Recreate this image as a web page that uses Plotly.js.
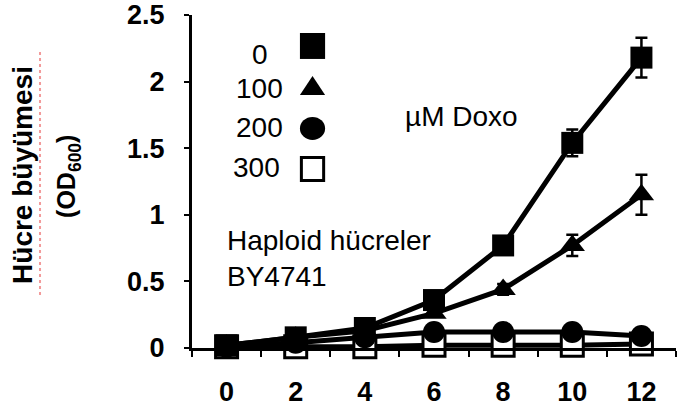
<!DOCTYPE html>
<html>
<head>
<meta charset="utf-8">
<script src="https://cdn.plot.ly/plotly-3.0.1.min.js"></script>
<style>html,body{margin:0;padding:0;background:#fff;}#chart{width:684px;height:410px;}</style>
</head>
<body>
<div id="chart"></div>
<script>
// Data
const timePoints = ["0", "2", "4", "6", "8", "10", "12"];
const doxo0   = [0.02, 0.08, 0.15, 0.36, 0.77, 1.54, 2.18];
const doxo0Err = [0, 0, 0, 0.03, 0.04, 0.10, 0.15];
const doxo100 = [0.02, 0.08, 0.13, 0.26, 0.44, 0.77, 1.15];
const doxo100Err = [0, 0, 0, 0, 0.04, 0.08, 0.15];
const doxo200 = [0.01, 0.04, 0.08, 0.12, 0.12, 0.12, 0.09];
const doxo300 = [0.01, 0.01, 0.01, 0.02, 0.02, 0.02, 0.03];
const legendLabels = ["0", "100", "200", "300"];
const yTicks = [0, 0.5, 1, 1.5, 2, 2.5];
const yTickText = ["0", "0.5", "1", "1.5", "2", "2.5"];

const FONT = "Liberation Sans, Arial, sans-serif";

function series(y, symbol, fill, err) {
  const t = {
    x: timePoints, y: y, type: "scatter", mode: "lines+markers",
    line: {color: "#000", width: 5},
    marker: {symbol: symbol, size: 22, color: fill, line: {color: "#000", width: fill === "#fff" ? 3 : 0}},
    showlegend: false, cliponaxis: false
  };
  if (err) t.error_y = {type: "data", array: err, visible: true, color: "#000", thickness: 2.5, width: 6};
  return t;
}

const traces = [
  series(doxo300, "square", "#fff"),
  series(doxo200, "circle", "#000"),
  series(doxo100, "triangle-up", "#000", doxo100Err),
  series(doxo0, "square", "#000", doxo0Err)
];

function ann(text, x, y, xanchor, size, bold, extra) {
  return Object.assign({
    text: bold ? "<b>" + text + "</b>" : text, xref: "paper", yref: "paper", x: x, y: y,
    xanchor: xanchor, yanchor: "middle", showarrow: false,
    font: {family: FONT, size: size, color: "#000"}
  }, extra || {});
}

const annotations = [
  ann("µM Doxo", 0.436, 0.694, "left", 28, false),
  ann("Haploid hücreler", 0.068, 0.324, "left", 28, false),
  ann("BY4741", 0.068, 0.216, "left", 28, false),
  ann(legendLabels[0], 0.161, 0.880, "right", 28, false),
  ann(legendLabels[1], 0.192, 0.778, "right", 28, false),
  ann(legendLabels[2], 0.192, 0.661, "right", 28, false),
  ann(legendLabels[3], 0.186, 0.541, "right", 28, false),
  ann("Hücre büyümesi", -0.349, 0.520, "center", 28, true, {textangle: -90}),
  ann("(OD<sub>600</sub>)", -0.256, 0.514, "center", 25, true, {textangle: -90})
];

const shapes = [
  {type: "rect", xref: "paper", yref: "paper", x0: 0.223, x1: 0.275, y0: 0.868, y1: 0.946, fillcolor: "#000", line: {width: 0}},
  {type: "path", xref: "paper", yref: "paper", path: "M 0.223 0.760 L 0.275 0.760 L 0.249 0.817 Z", fillcolor: "#000", line: {width: 0}},
  {type: "circle", xref: "paper", yref: "paper", x0: 0.223, x1: 0.275, y0: 0.625, y1: 0.694, fillcolor: "#000", line: {width: 0}},
  {type: "rect", xref: "paper", yref: "paper", x0: 0.226, x1: 0.272, y0: 0.503, y1: 0.572, fillcolor: "#fff", line: {color: "#000", width: 3}},
  {type: "line", xref: "paper", yref: "paper", x0: -0.314, x1: -0.314, y0: 0.159, y1: 0.895, line: {color: "#f29a9a", width: 2, dash: "dot"}}
];

const layout = {
  width: 684, height: 410,
  margin: {l: 192, r: 8, t: 15, b: 62},
  paper_bgcolor: "#fff", plot_bgcolor: "#fff",
  showlegend: false,
  font: {family: FONT, color: "#000"},
  xaxis: {
    type: "category", range: [-0.5, 6.5], showgrid: false, zeroline: false,
    showline: true, linecolor: "#000", linewidth: 3,
    ticks: "outside", tickson: "boundaries", ticklen: 6, tickwidth: 2, tickcolor: "#000",
    tickfont: {family: FONT, size: 27, color: "#000", weight: "bold"},
    ticklabelstandoff: 18
  },
  yaxis: {
    range: [0, 2.5], showgrid: false, zeroline: false,
    showline: true, linecolor: "#000", linewidth: 3,
    ticks: "outside", ticklen: 5, tickwidth: 2, tickcolor: "#000",
    tickvals: yTicks, ticktext: yTickText,
    tickfont: {family: FONT, size: 27, color: "#000", weight: "bold"},
    ticklabelstandoff: 14
  },
  annotations: annotations,
  shapes: shapes
};

Plotly.newPlot("chart", traces, layout, {staticPlot: true, displayModeBar: false});
</script>
</body>
</html>
